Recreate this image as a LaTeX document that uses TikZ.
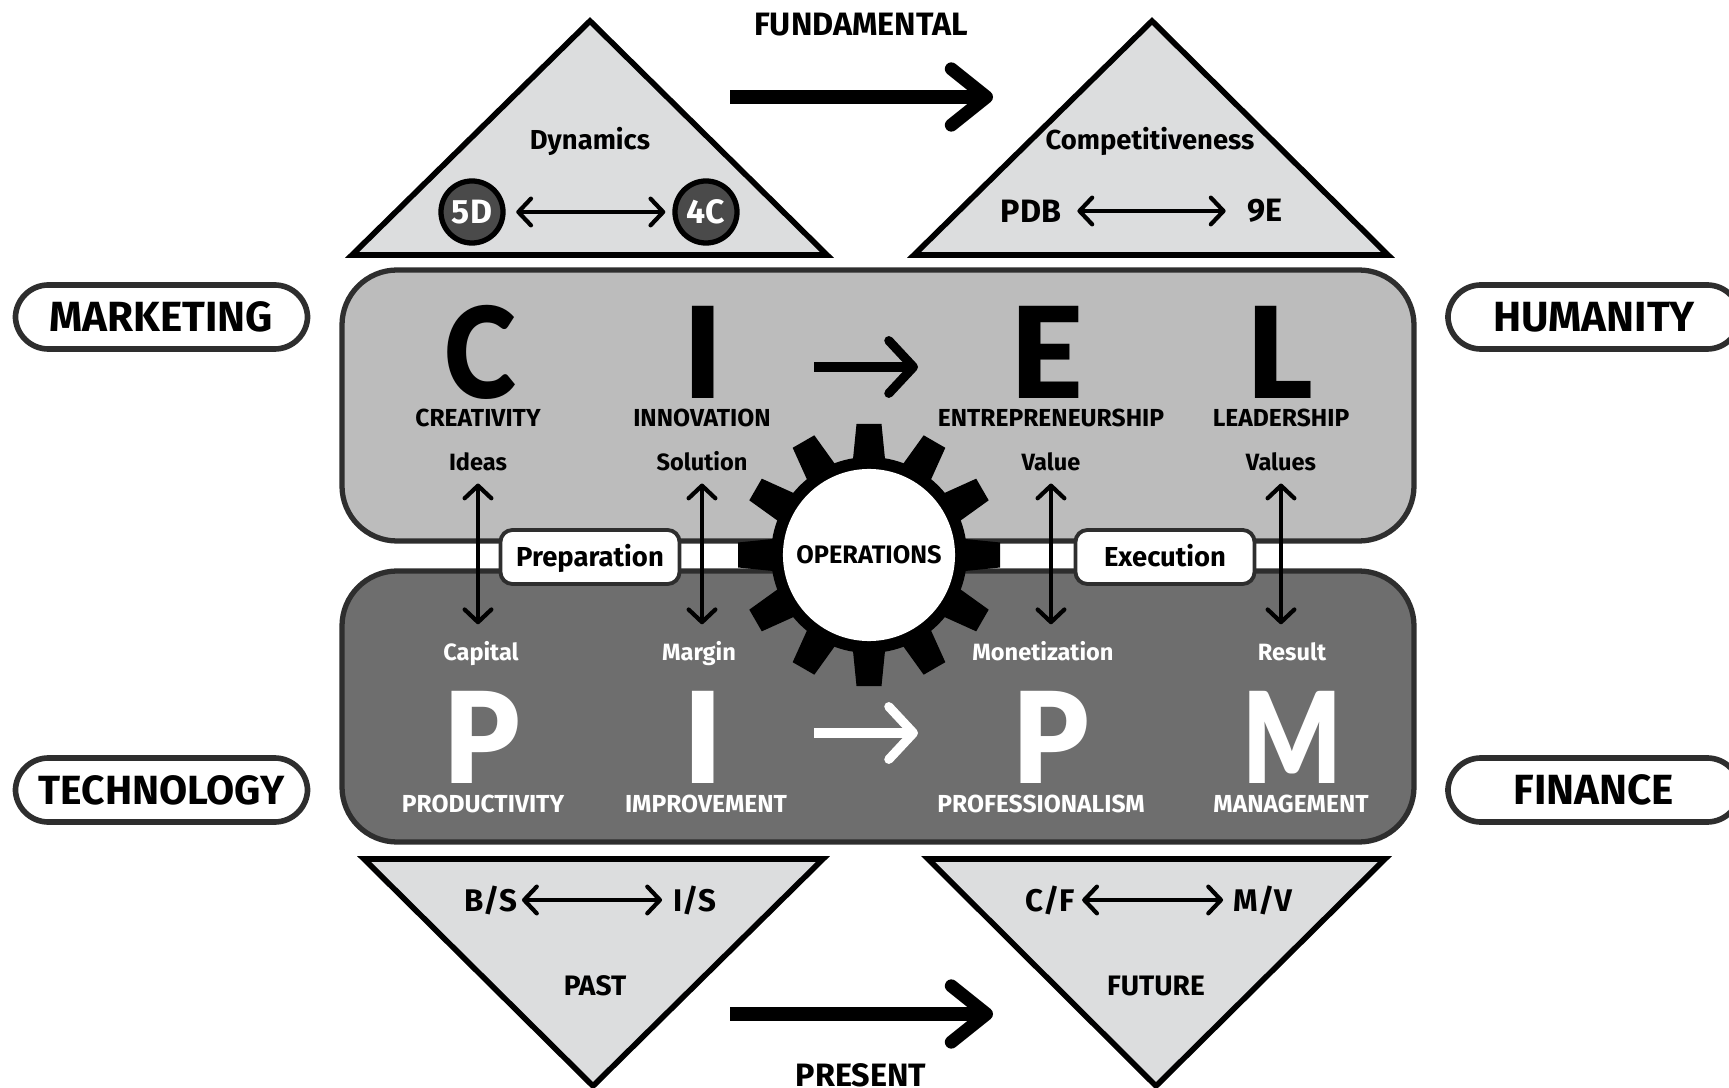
\documentclass[tikz,border=0pt]{standalone}
\usepackage{fontspec}
\setmainfont{Fira Sans}
\newfontfamily\heavyfont{Lato Black}
\usetikzlibrary{arrows.meta}

\definecolor{trifill}{HTML}{DCDDDE}
\definecolor{upperfill}{HTML}{BCBCBC}
\definecolor{lowerfill}{HTML}{6E6E6E}
\definecolor{edgecol}{HTML}{2E2E2E}
\definecolor{badgefill}{HTML}{4A4A4A}

\tikzset{
    tri/.style={draw=black,fill=trifill,line width=1.6pt,miter limit=10},
    band/.style={draw=edgecol,line width=1.5pt,rounded corners=0.55cm},
    pill/.style={draw=edgecol,fill=white,line width=1.6pt,rounded corners=0.33cm,
        minimum width=2.92cm,minimum height=0.64cm,font=\fontsize{12}{13}\selectfont\bfseries},
    tag/.style={draw=edgecol,fill=white,line width=1.1pt,rounded corners=0.12cm,
        minimum width=1.79cm,minimum height=0.48cm,text height=7pt,text depth=1.7pt,
        font=\fontsize{7.8}{9}\selectfont\bfseries},
    txt/.style={inner sep=0pt,text height=5pt,text depth=1.5pt,font=\fontsize{6.7}{8}\selectfont\bfseries},
    captxt/.style={inner sep=0pt,font=\fontsize{7}{8}\selectfont\bfseries},
    midtxt/.style={inner sep=0pt,text height=5.8pt,text depth=1.7pt,font=\fontsize{7.8}{9}\selectfont\bfseries},
    headtxt/.style={inner sep=0pt,font=\fontsize{9.2}{10}\selectfont\bfseries},
    big/.style={inner sep=0pt,text height=26pt,text depth=0pt,font=\fontsize{36}{36}\selectfont\heavyfont},
    badge/.style={circle,draw=black,fill=badgefill,text=white,line width=1.5pt,
        minimum size=0.62cm,inner sep=0pt,font=\fontsize{9.6}{10}\selectfont\bfseries},
    thin arrow/.style={line width=1.2pt,{Straight Barb[length=3.6pt,width=7.6pt,round]}-{Straight Barb[length=3.6pt,width=7.6pt,round]}},
    mid arrow/.style={line width=2.6pt,-{Straight Barb[length=7pt,width=15pt,round]}},
    fat arrow/.style={line width=3.7pt,-{Straight Barb[length=10pt,width=16pt,round]}},
    vlink/.style={thin arrow,shorten <=2.1pt,shorten >=5pt},
}

\begin{document}
\begin{tikzpicture}[x=0.01cm,y=-0.01cm]
    \useasboundingbox (0,0) rectangle (1729,1088);

    % triangles
    \draw[tri] (590,21) -- (827,255) -- (352,255) -- cycle;
    \draw[tri] (1152,21) -- (1388,255) -- (914,255) -- cycle;
    \draw[tri] (364,859) -- (823,859) -- (593,1086) -- cycle;
    \draw[tri] (928,859) -- (1385,859) -- (1156,1086) -- cycle;

    % bands
    \draw[band,fill=upperfill] (342,270) rectangle (1414,541);
    \draw[band,fill=lowerfill] (342,571) rectangle (1414,842);

    % side labels
    \node[pill] (marketing) at (161.5,317) {MARKETING};
    \node[pill] (humanity) at (1594,317) {HUMANITY};
    \node[pill,font=\fontsize{11.6}{13}\selectfont\bfseries] (technology) at (161.5,790) {TECHNOLOGY};
    \node[pill] (finance) at (1594,790) {FINANCE};

    % top triangles
    \node[midtxt] (dynamics) at (590,142) {Dynamics};
    \node[badge] (fived) at (472,212) {5D};
    \node[badge] (fourc) at (706,212) {4C};
    \draw[thin arrow,shorten <=3pt,shorten >=2pt] (fived) -- (fourc);
    \node[midtxt] (compet) at (1150,142) {Competitiveness};
    \node[headtxt] (pdb) at (1031,211) {PDB};
    \node[headtxt] (nine) at (1265,211) {9E};
    \draw[thin arrow,shorten <=4.4pt,shorten >=6pt] (pdb) -- (nine);

    % fundamental, present
    \node[headtxt] (fundamental) at (861,25) {FUNDAMENTAL};
    \coordinate (funda) at (730,97);
    \coordinate (fundb) at (993,97);
    \draw[fat arrow] (funda) -- (fundb);
    \node[headtxt] (present) at (861,1075) {PRESENT};
    \coordinate (presa) at (730,1014);
    \coordinate (presb) at (993,1014);
    \draw[fat arrow] (presa) -- (presb);

    % CIEL
    \node[big] (c) at (480,353) {\scalebox{0.86}[1]{C}};
    \node[big] (i) at (703,353) {I};
    \node[big] (e) at (1047,353) {E};
    \node[big] (l) at (1280,353) {L};
    \coordinate (ciela) at (814,367);
    \coordinate (cielb) at (918,367);
    \draw[mid arrow] (ciela) -- (cielb);
    \node[captxt] (creativity) at (478,418) {CREATIVITY};
    \node[captxt] (innovation) at (702,418) {INNOVATION};
    \node[captxt] (entre) at (1051,418) {ENTREPRENEURSHIP};
    \node[captxt] (leader) at (1281,418) {LEADERSHIP};
    \node[txt] (ideas) at (478,464) {Ideas};
    \node[txt] (solution) at (702,464) {Solution};
    \node[txt] (value) at (1051,464) {Value};
    \node[txt] (values) at (1281,464) {Values};

    % PIPM
    \node[big,text=white] (p) at (482,738) {\scalebox{0.95}[1]{P}};
    \node[big,text=white] (ii) at (703,738) {I};
    \node[big,text=white] (pp) at (1051,738) {\scalebox{0.95}[1]{P}};
    \node[big,text=white] (m) at (1292,738) {\scalebox{0.82}[1]{M}};
    \coordinate (pipma) at (814,733);
    \coordinate (pipmb) at (918,733);
    \draw[mid arrow,white] (pipma) -- (pipmb);
    \node[captxt,text=white] (productivity) at (483,804) {PRODUCTIVITY};
    \node[captxt,text=white] (improvement) at (706,804) {IMPROVEMENT};
    \node[captxt,text=white] (professional) at (1041,804) {PROFESSIONALISM};
    \node[captxt,text=white] (management) at (1291,804) {MANAGEMENT};
    \node[txt,text=white] (capital) at (481,654) {Capital};
    \node[txt,text=white] (margin) at (699,654) {Margin};
    \node[txt,text=white] (monet) at (1043,654) {Monetization};
    \node[txt,text=white] (result) at (1292,654) {Result};

    % vertical links
    \draw[vlink] (ideas.south) -- (ideas.south |- capital.north);
    \draw[vlink] (solution.south) -- (solution.south |- margin.north);
    \draw[vlink] (value.south) -- (value.south |- monet.north);
    \draw[vlink] (values.south) -- (values.south |- result.north);

    \node[tag] (preparation) at (590,557) {Preparation};
    \node[tag] (execution) at (1165,557) {Execution};

    % gear
    \coordinate (gearc) at (869,555);
    \fill[black] (gearc) circle (98);
    \foreach \a in {0,30,...,330} {
        \fill[black,shift={(gearc)},rotate=\a] (-16,-96) -- (-12.5,-131) -- (12.5,-131) -- (16,-96) -- cycle;
    }
    \node[circle,fill=white,minimum size=1.72cm,inner sep=0pt,font=\fontsize{7.2}{8}\selectfont\bfseries] (operations) at (gearc) {OPERATIONS};

    % bottom triangles
    \node[headtxt,font=\fontsize{8.9}{10}\selectfont\bfseries] (bs) at (491,900) {B/S};
    \node[headtxt,font=\fontsize{8.9}{10}\selectfont\bfseries] (is) at (695,900) {I/S};
    \draw[thin arrow,shorten <=1pt,shorten >=3pt] (bs) -- (is);
    \node[headtxt,font=\fontsize{8.9}{10}\selectfont\bfseries] (cf) at (1050,900) {C/F};
    \node[headtxt,font=\fontsize{8.9}{10}\selectfont\bfseries] (mv) at (1263,900) {M/V};
    \draw[thin arrow,shorten <=1.9pt,shorten >=2.8pt] (cf) -- (mv);
    \node[captxt,font=\fontsize{8}{9}\selectfont\bfseries] (past) at (595,986) {PAST};
    \node[captxt,font=\fontsize{8}{9}\selectfont\bfseries] (future) at (1156,986) {FUTURE};
\end{tikzpicture}
\end{document}
